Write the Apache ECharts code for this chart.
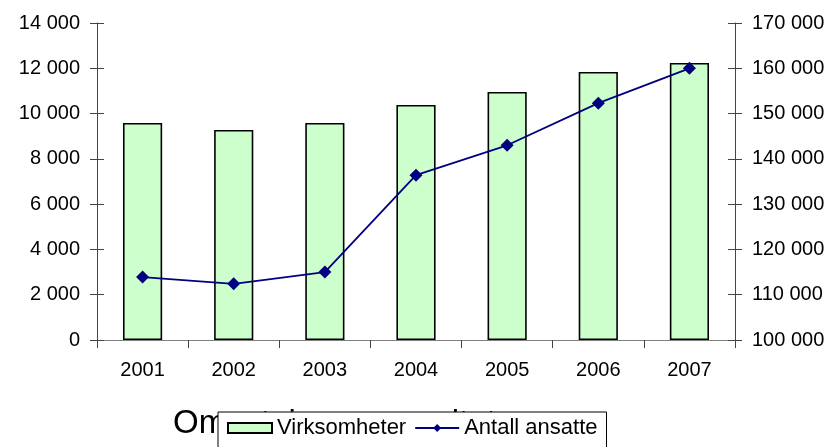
<!DOCTYPE html>
<html>
<head>
<meta charset="utf-8">
<script src="https://cdn.jsdelivr.net/npm/echarts@6/dist/echarts.min.js"></script>
<style>html,body{margin:0;padding:0;background:#fff}#c{width:830px;height:447px}</style>
</head>
<body>
<div id="c"></div>
<script>
const years = ['2001','2002','2003','2004','2005','2006','2007'];
const virksomheter = [9585, 9275, 9585, 10380, 10955, 11840, 12235];
const ansatte = [113900, 112400, 115000, 136400, 143000, 152300, 160000];
const leftTicks = {min: 0, max: 14000, interval: 2000};
const rightTicks = {min: 100000, max: 170000, interval: 10000};
const titleText = 'Omsetning og resultat';

const fmt = v => String(v).replace(/\B(?=(\d{3})+(?!\d))/g, ' ');
const FONT = 'Liberation Sans, Arial, sans-serif';
const axisCol = '#444';

function yAx(pos, ticks, inside, show) {
  return {
    type: 'value', position: pos, min: ticks.min, max: ticks.max, interval: ticks.interval,
    axisLine: {show: show, lineStyle: {color: axisCol, width: 1}},
    axisTick: {show: true, inside: inside, length: 7, lineStyle: {color: axisCol}},
    axisLabel: {show: show, formatter: fmt, color: '#000', fontFamily: FONT, fontSize: 20, margin: 17},
    splitLine: {show: false}
  };
}

const chart = echarts.init(document.getElementById('c'), null, {renderer: 'canvas'});
chart.setOption({
  animation: false,
  backgroundColor: '#fff',
  title: {
    text: titleText, left: 168, top: 402,
    textStyle: {fontFamily: FONT, fontSize: 33, fontWeight: 'normal', color: '#000'}
  },
  legend: {
    left: 218, top: 412, z: 10,
    backgroundColor: '#fff', borderColor: '#000', borderWidth: 1, borderRadius: 0,
    padding: [5, 9, 20, 9],
    itemWidth: 44, itemHeight: 10, itemGap: 8,
    textStyle: {fontFamily: FONT, fontSize: 22, color: '#000'},
    data: [{name: 'Virksomheter', icon: 'rect'}, {name: 'Antall ansatte'}]
  },
  grid: {left: 97, right: 95, top: 23, bottom: 107},
  xAxis: {
    type: 'category', data: years,
    axisLine: {lineStyle: {color: '#808080', width: 1}},
    axisTick: {show: true, length: 8, lineStyle: {color: axisCol}},
    axisLabel: {color: '#000', fontFamily: FONT, fontSize: 20, margin: 20}
  },
  yAxis: [
    yAx('left', leftTicks, false, true),
    yAx('right', rightTicks, false, true),
    yAx('left', leftTicks, true, false),
    yAx('right', rightTicks, true, false)
  ],
  series: [
    {
      name: 'Virksomheter', type: 'bar', yAxisIndex: 0, data: virksomheter, barWidth: '43%',
      itemStyle: {color: '#CCFFCC', borderColor: '#000', borderWidth: 1.6}
    },
    {
      name: 'Antall ansatte', type: 'line', yAxisIndex: 1, data: ansatte,
      symbol: 'diamond', symbolSize: 13,
      lineStyle: {color: '#000080', width: 1.8},
      itemStyle: {color: '#000080'}
    }
  ]
});
</script>
</body>
</html>
